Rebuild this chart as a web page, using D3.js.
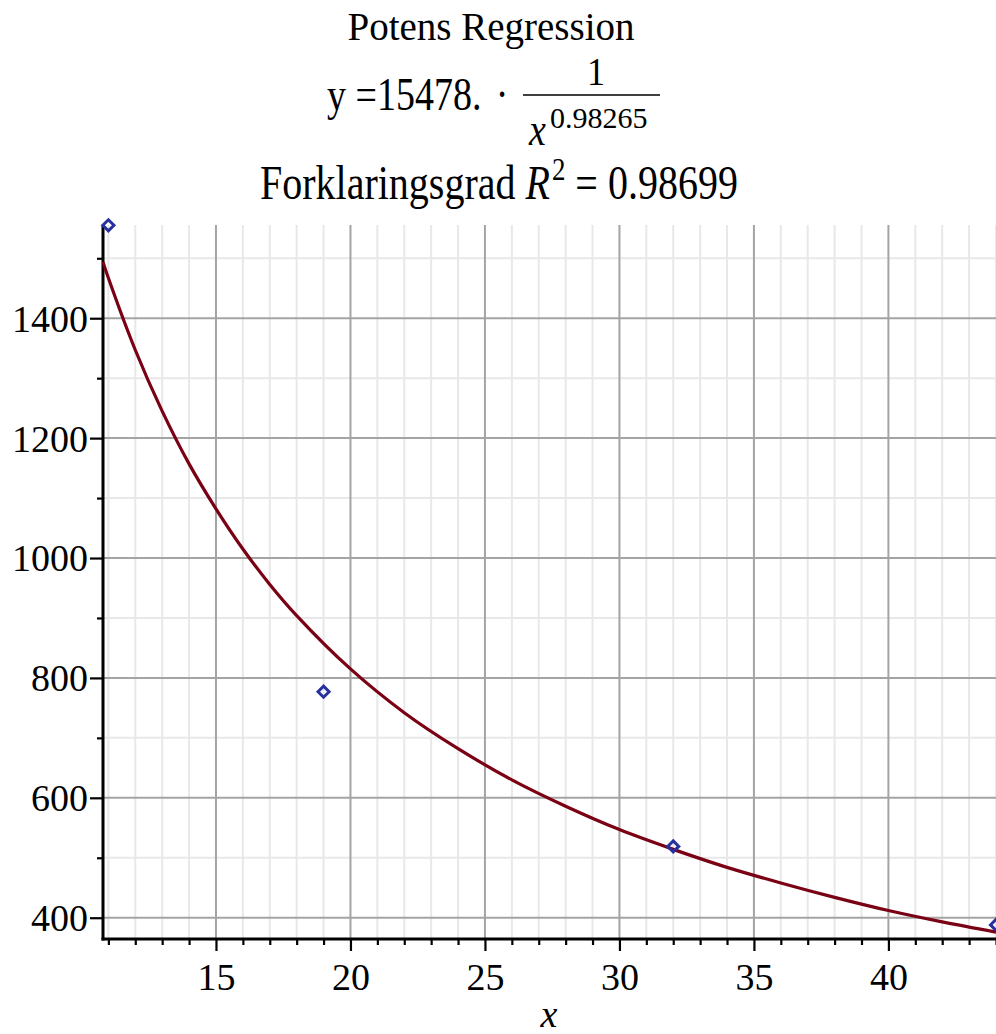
<!DOCTYPE html>
<html>
<head>
<meta charset="utf-8">
<script src="https://cdn.jsdelivr.net/npm/d3@7"></script>
<style>
  body { margin: 0; background: #fff; }
  text { font-family: 'Liberation Serif', 'Times New Roman', serif; fill: #000; }
</style>
</head>
<body>
<svg id="chart" width="996" height="1034"></svg>
<script>
// measured points
let pointX = [11, 19, 32, 44]
let pointY = [1555, 777, 519, 388]

// fitted curve
let curveX = [10.8, 11, 12, 13, 14, 15, 16, 17, 18, 20, 22, 24, 26, 28, 30, 32, 34, 36, 38, 40, 42, 44]
let curveY = [1494, 1467, 1347, 1245, 1157, 1082, 1015, 956, 904, 815, 742, 682, 630, 586, 547, 514, 484, 458, 434, 412, 393, 376]

let xMajor = [15, 20, 25, 30, 35, 40]
let xMinor = d3.range(11, 45)
let yMajor = [400, 600, 800, 1000, 1200, 1400]
let yMinor = [500, 700, 900, 1100, 1300, 1500]

const LEFT = 103
const RIGHT = 996
const TOP = 225
const BOTTOM = 939
const FONT = 38
const STRETCH = 1.2 // maths lines are drawn a bit taller than wide

let svg = d3.select('#chart')

let x = d3.scaleLinear().domain([10.8, 44]).range([LEFT, RIGHT])
let y = d3.scaleLinear().domain([364.5, 1555.5]).range([BOTTOM, TOP])

let xMinorOnly = xMinor.filter(v => xMajor.indexOf(v) < 0)

// Grid - minor
let grid = svg.append('g')
grid.selectAll('line.xmin')
  .data(xMinorOnly)
  .enter().append('line')
  .attr('x1', d => x(d)).attr('x2', d => x(d))
  .attr('y1', TOP).attr('y2', BOTTOM)
  .attr('stroke', '#e8e8e8').attr('stroke-width', 2)
grid.selectAll('line.ymin')
  .data(yMinor)
  .enter().append('line')
  .attr('x1', LEFT).attr('x2', RIGHT)
  .attr('y1', d => y(d)).attr('y2', d => y(d))
  .attr('stroke', '#e8e8e8').attr('stroke-width', 2)

// Grid - major
grid.selectAll('line.xmaj')
  .data(xMajor)
  .enter().append('line')
  .attr('x1', d => x(d)).attr('x2', d => x(d))
  .attr('y1', TOP).attr('y2', BOTTOM)
  .attr('stroke', '#a4a4a4').attr('stroke-width', 2)
grid.selectAll('line.ymaj')
  .data(yMajor)
  .enter().append('line')
  .attr('x1', LEFT).attr('x2', RIGHT)
  .attr('y1', d => y(d)).attr('y2', d => y(d))
  .attr('stroke', '#a4a4a4').attr('stroke-width', 2)

// Axes
let xAxis = svg.append('g')
  .attr('transform', `translate(0,${BOTTOM})`)
  .call(d3.axisBottom(x).tickValues(xMajor).tickSize(12).tickSizeOuter(0).tickPadding(6).tickFormat(d3.format('d')))
let xAxisMinor = svg.append('g')
  .attr('transform', `translate(0,${BOTTOM})`)
  .call(d3.axisBottom(x).tickValues(xMinorOnly).tickSize(6).tickSizeOuter(0).tickFormat(''))
let yAxis = svg.append('g')
  .attr('transform', `translate(${LEFT},0)`)
  .call(d3.axisLeft(y).tickValues(yMajor).tickSize(13).tickSizeOuter(0).tickPadding(2).tickFormat(d3.format('d')))
let yAxisMinor = svg.append('g')
  .attr('transform', `translate(${LEFT},0)`)
  .call(d3.axisLeft(y).tickValues(yMinor).tickSize(6).tickSizeOuter(0).tickFormat(''))

;[xAxis, xAxisMinor, yAxis, yAxisMinor].forEach(a => {
  a.select('.domain').remove()
  a.selectAll('line').attr('stroke', '#000').attr('stroke-width', 2.2)
  a.selectAll('text')
    .style('font-family', "'Liberation Serif', 'Times New Roman', serif")
    .style('font-size', FONT + 'px')
    .attr('fill', '#000')
})
xAxis.selectAll('text').attr('dy', '0.86em')
yAxis.selectAll('text').attr('dy', '0.34em')

// axis lines
svg.append('line')
  .attr('x1', LEFT).attr('x2', LEFT).attr('y1', TOP).attr('y2', BOTTOM + 1.5)
  .attr('stroke', '#000').attr('stroke-width', 3)
svg.append('line')
  .attr('x1', LEFT - 1.5).attr('x2', RIGHT).attr('y1', BOTTOM).attr('y2', BOTTOM)
  .attr('stroke', '#000').attr('stroke-width', 3)

// Regression curve
let line = d3.line()
  .x((d, i) => x(curveX[i]))
  .y(d => y(d))
  .curve(d3.curveCatmullRom)
svg.append('path')
  .attr('d', line(curveY))
  .attr('fill', 'none')
  .attr('stroke', '#7a0014')
  .attr('stroke-width', 3.2)

// Data points (diamonds)
let diamond = d3.symbol().type(d3.symbolDiamond2).size(78)
svg.selectAll('path.pt')
  .data(pointX)
  .enter().append('path')
  .attr('class', 'pt')
  .attr('d', diamond)
  .attr('transform', (d, i) => `translate(${x(d)},${y(pointY[i])})`)
  .attr('fill', 'none')
  .attr('stroke', '#28309e')
  .attr('stroke-width', 3)

// helper: text placed at its baseline, optionally stretched upward
function label(str, px, py, size, sy, anchor) {
  return svg.append('text')
    .attr('transform', `translate(${px},${py}) scale(1,${sy || 1})`)
    .attr('text-anchor', anchor || 'start')
    .style('font-size', size + 'px')
    .text(str)
}

// x label
label('x', 549, 1027, FONT, 1, 'middle').style('font-style', 'italic')

// Title
label('Potens Regression', 491, 40, 39, 1, 'middle')

// Equation line
label('y =15478.', 327, 110, FONT, STRETCH)
label('\u00b7', 502, 110, FONT, STRETCH, 'middle')
label('1', 596, 85, 36, 1.1, 'middle')
svg.append('line')
  .attr('x1', 523).attr('x2', 660).attr('y1', 95).attr('y2', 95)
  .attr('stroke', '#000').attr('stroke-width', 1.5)
label('x', 529, 145, FONT, STRETCH).style('font-style', 'italic')
label('0.98265', 550, 128, 30, 1)

// R^2 line
let r2 = label('', 260, 199, 40, STRETCH)
r2.append('tspan').text('Forklaringsgrad ')
r2.append('tspan').style('font-style', 'italic').text('R')
r2.append('tspan').attr('dx', 2).attr('dy', -16).style('font-size', '27px').text('2')
r2.append('tspan').attr('dy', 16).text(' = 0.98699')
</script>
</body>
</html>
